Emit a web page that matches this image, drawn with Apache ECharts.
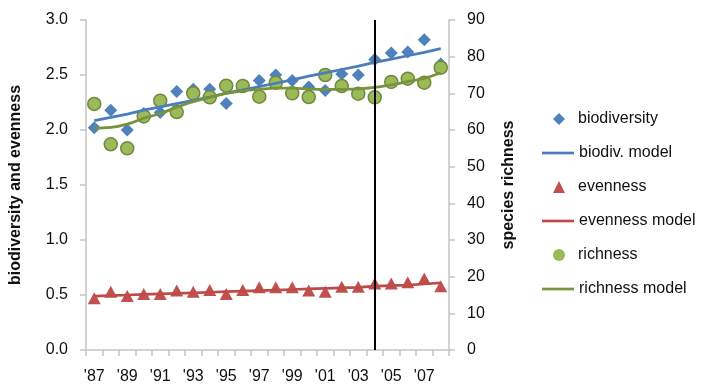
<!DOCTYPE html>
<html><head><meta charset="utf-8">
<script src="https://cdn.jsdelivr.net/npm/echarts@6/dist/echarts.min.js"></script>
<style>html,body{margin:0;padding:0;background:#fff}#c{width:704px;height:388px}</style>
</head><body><div id="c"></div>
<script>
var years = ["'87","'88","'89","'90","'91","'92","'93","'94","'95","'96","'97","'98","'99","'00","'01","'02","'03","'04","'05","'06","'07","'08"];
var biodiversity = [2.02,2.18,2.00,2.15,2.16,2.35,2.37,2.37,2.24,2.41,2.45,2.50,2.45,2.39,2.36,2.51,2.50,2.64,2.70,2.71,2.82,2.60];
var biodivModel = [2.085,2.115,2.145,2.18,2.21,2.24,2.27,2.30,2.335,2.365,2.395,2.425,2.455,2.49,2.52,2.55,2.58,2.615,2.645,2.675,2.705,2.74];
var evenness = [0.47,0.53,0.49,0.51,0.51,0.54,0.53,0.545,0.51,0.545,0.57,0.57,0.57,0.54,0.53,0.575,0.575,0.605,0.605,0.615,0.65,0.58];
var evennessModel = [0.49,0.495,0.50,0.505,0.51,0.515,0.52,0.525,0.53,0.535,0.54,0.545,0.55,0.555,0.56,0.565,0.57,0.58,0.585,0.59,0.60,0.61];
var richness = [67.1,56.1,55.0,63.7,68.0,64.9,70.0,68.9,72.1,72.0,69.1,72.9,70.0,69.0,75.0,72.0,69.9,68.9,73.1,74.0,72.9,77.0];
var richnessModel = [60.5,60.7,61.6,63.2,64.5,66.2,67.7,68.9,70.0,70.7,71.1,71.4,71.4,71.2,71.1,71.1,71.2,71.6,72.3,73.2,74.1,75.6];
var leftTicks = {min:0, max:3, interval:0.5};
var rightTicks = {min:0, max:90, interval:10};
var markYear = "'04";

var FONT = "'Liberation Sans', Arial, sans-serif";
var LINE_ICON = 'path://M0,0L36,0L36,3L0,3Z';
var chart = echarts.init(document.getElementById('c'));
var axisLineStyle = {color:'#c4c4c4', width:1.5};
var legendText = {fontSize:16, color:'#111', fontFamily:FONT, lineHeight:20};
chart.setOption({
  animation:false,
  textStyle:{fontFamily:FONT},
  grid:{left:86, right:255, top:20, bottom:38},
  legend:[{
    orient:'vertical', left:548, top:104, itemWidth:12, itemHeight:12, itemGap:48,
    textStyle:Object.assign({padding:[0,0,0,8]}, legendText),
    data:[
      {name:'biodiversity', icon:'diamond'},
      {name:'evenness', icon:'triangle'},
      {name:'richness', icon:'circle', itemStyle:{borderWidth:0}}
    ]
  },{
    orient:'vertical', left:537, top:138, itemWidth:32, itemHeight:10, itemGap:48,
    textStyle:legendText,
    data:[
      {name:'biodiv. model', icon:LINE_ICON},
      {name:'evenness model', icon:LINE_ICON},
      {name:'richness model', icon:LINE_ICON}
    ]
  }],
  xAxis:{
    type:'category', data:years, boundaryGap:true,
    axisLine:{lineStyle:axisLineStyle},
    axisTick:{show:true, interval:0, length:6, lineStyle:axisLineStyle},
    axisLabel:{interval:1, fontSize:16, color:'#111', margin:19, fontFamily:FONT},
    splitLine:{show:false}
  },
  yAxis:[{
    type:'value', min:leftTicks.min, max:leftTicks.max, interval:leftTicks.interval,
    name:'biodiversity and evenness', nameLocation:'middle', nameGap:62,
    nameTextStyle:{fontSize:16, fontWeight:'bold', color:'#111', fontFamily:FONT},
    axisLine:{show:true, lineStyle:axisLineStyle},
    axisTick:{show:true, length:6, lineStyle:axisLineStyle},
    axisLabel:{fontSize:16, color:'#111', margin:18, fontFamily:FONT, formatter:function(v){return v.toFixed(1);}},
    splitLine:{show:false}
  },{
    type:'value', min:rightTicks.min, max:rightTicks.max, interval:rightTicks.interval,
    name:'species richness', nameLocation:'middle', nameGap:52,
    nameTextStyle:{fontSize:16, fontWeight:'bold', color:'#111', fontFamily:FONT},
    axisLine:{show:true, lineStyle:axisLineStyle},
    axisTick:{show:true, length:6, lineStyle:axisLineStyle},
    axisLabel:{fontSize:16, color:'#111', margin:18, fontFamily:FONT},
    splitLine:{show:false}
  }],
  series:[
    {name:'biodiversity', type:'scatter', yAxisIndex:0, data:biodiversity, symbol:'diamond', symbolSize:13,
     itemStyle:{color:'#4F81BD', opacity:1}},
    {name:'biodiv. model', type:'line', yAxisIndex:0, data:biodivModel, symbol:'none', showSymbol:false,
     lineStyle:{color:'#4A7EBB', width:2.75}, itemStyle:{color:'#4A7EBB'}},
    {name:'evenness', type:'scatter', yAxisIndex:0, data:evenness, symbol:'triangle', symbolSize:[13,12],
     itemStyle:{color:'#C0504D', opacity:1}},
    {name:'evenness model', type:'line', yAxisIndex:0, data:evennessModel, symbol:'none', showSymbol:false,
     lineStyle:{color:'#BE4B48', width:2.75}, itemStyle:{color:'#BE4B48'}},
    {name:'richness', type:'scatter', yAxisIndex:1, data:richness, symbol:'circle', symbolSize:13,
     itemStyle:{color:'#9BBB59', borderColor:'#71893F', borderWidth:1.5, opacity:1}},
    {name:'richness model', type:'line', yAxisIndex:1, data:richnessModel, symbol:'none', showSymbol:false, smooth:0.4,
     lineStyle:{color:'#77933C', width:2.75}, itemStyle:{color:'#77933C'},
     markLine:{silent:true, symbol:['none','none'], label:{show:false}, z:10,
       lineStyle:{color:'#000', width:2, type:'solid'}, data:[{xAxis:markYear}]}}
  ]
});
</script></body></html>
